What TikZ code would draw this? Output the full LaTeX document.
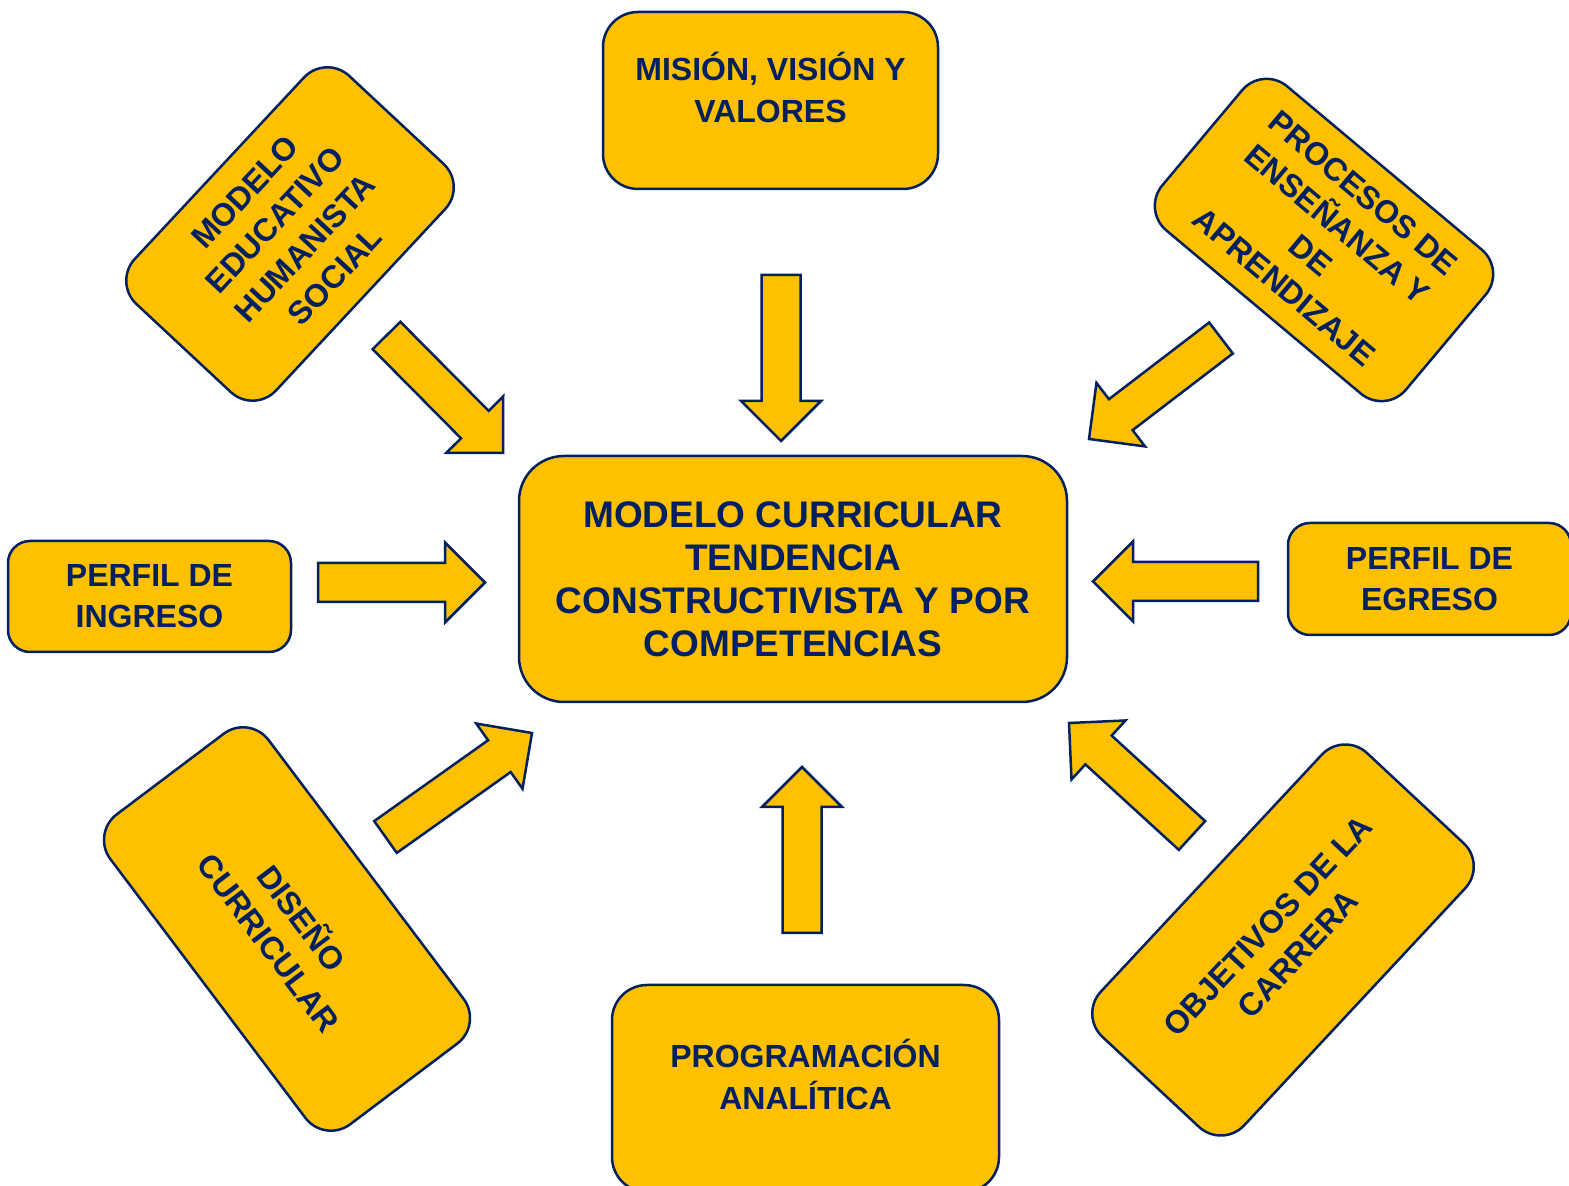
\documentclass[tikz,border=0pt]{standalone}
\usepackage{fontspec}
\setmainfont{Liberation Sans}
\usepackage{xcolor}
\usepackage{tikz}
\usetikzlibrary{calc}
\definecolor{azul}{HTML}{002060}
\definecolor{oro}{HTML}{FFC000}
\tikzstyle{caja}=[draw=azul,fill=oro,line width=2.5pt,rounded corners=32pt,text=azul,align=center,inner sep=0pt,font=\bfseries\fontsize{32}{41}\selectfont]
\tikzstyle{letra}=[text=azul,align=center,inner sep=0pt,font=\bfseries\fontsize{32}{42}\selectfont]
\tikzstyle{flecha}=[draw=azul,fill=oro,line width=2.5pt,line join=miter]
% block arrow from #1 (tail) to #2 (tip)
\newcommand{\bloque}[2]{%
  \draw[flecha] let \p1=($(#2)-(#1)$), \n1={veclen(\x1,\y1)}, \n2={atan2(\y1,\x1)} in
    ($(#1)+({\n2+90}:19.5)$) -- ($(#1)+({\n2}:{\n1-40})+({\n2+90}:19.5)$)
    -- ($(#1)+({\n2}:{\n1-40})+({\n2+90}:40)$) -- (#2)
    -- ($(#1)+({\n2}:{\n1-40})+({\n2-90}:40)$) -- ($(#1)+({\n2}:{\n1-40})+({\n2-90}:19.5)$)
    -- ($(#1)+({\n2-90}:19.5)$) -- cycle;}

\begin{document}
\begin{tikzpicture}[x=1pt,y=1pt]
	\useasboundingbox (0,0) rectangle (1569,1186);
	% centre
	\node [caja,minimum width=548,minimum height=246,rounded corners=45pt,font=\bfseries\fontsize{37}{43}\selectfont] (modelocur) at (793,607)
		{MODELO CURRICULAR\\TENDENCIA\\CONSTRUCTIVISTA Y POR\\COMPETENCIAS};
	% boxes round the centre
	\node [caja,minimum width=335,minimum height=177,rounded corners=35pt] (mision) at (770.5,1085.5) {};
	\node [letra] (misiontxt) at ([yshift=13]mision.center) {MISIÓN, VISIÓN Y\\VALORES};
	\node [caja,minimum width=387,minimum height=207,rounded corners=35pt] (programa) at (805.5,97.5) {};
	\node [letra] (programatxt) at ([yshift=14]programa.center) {PROGRAMACIÓN\\ANALÍTICA};
	\node [caja,minimum width=283,minimum height=111,rounded corners=22pt] (ingreso) at (149.5,589.5) {PERFIL DE\\INGRESO};
	\node [caja,minimum width=283,minimum height=112,rounded corners=22pt] (egreso) at (1429.5,607) {PERFIL DE\\EGRESO};
	\node [caja,minimum width=312,minimum height=193,rotate=47] (humanista) at (290,952)
		{MODELO\\EDUCATIVO\\HUMANISTA\\SOCIAL};
	\node [caja,minimum width=318,minimum height=188,rotate=-40] (procesos) at (1324,946)
		{PROCESOS DE\\ENSEÑANZA Y\\DE\\APRENDIZAJE};
	\node [caja,minimum width=388,minimum height=198,rotate=-53] (diseno) at (287,257)
		{DISEÑO\\CURRICULAR};
	\node [caja,minimum width=388,minimum height=196,rotate=47] (objetivos) at (1283,246)
		{OBJETIVOS DE LA\\CARRERA};
	% arrow ends
	\coordinate (t1) at (781,911);    \coordinate (p1) at (781,745);
	\coordinate (t2) at (802,253);    \coordinate (p2) at (802,419);
	\coordinate (t3) at (318,603.5);  \coordinate (p3) at (485,603.5);
	\coordinate (t4) at (1258,604.5); \coordinate (p4) at (1093,604.5);
	\coordinate (t5) at (386.5,850.5);\coordinate (p5) at (503,733);
	\coordinate (t6) at (1221,848);   \coordinate (p6) at (1089,747);
	\coordinate (t7) at (385.5,349);  \coordinate (p7) at (532,453);
	\coordinate (t8) at (1192,350.5); \coordinate (p8) at (1069,463);
	\foreach \i in {1,...,8} {\bloque{t\i}{p\i}}
\end{tikzpicture}
\end{document}
